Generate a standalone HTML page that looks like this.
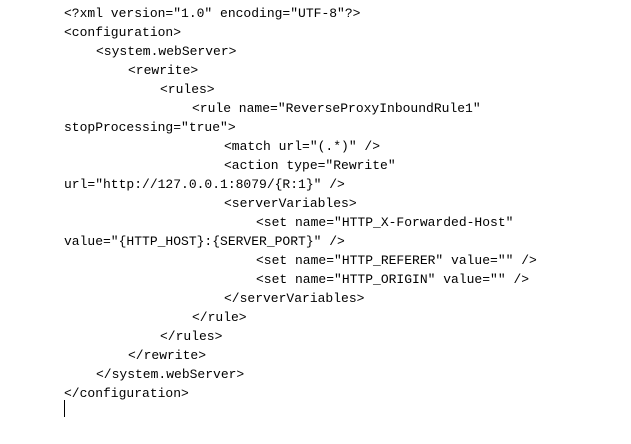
<!DOCTYPE html>
<html><head><meta charset="utf-8"><style>
body{margin:0;background:#fff;width:631px;height:444px;overflow:hidden;position:relative}
.l{position:absolute;font-family:"Liberation Mono","DejaVu Sans Mono",monospace;font-size:13px;line-height:16px;white-space:pre;color:#000}
.c{position:absolute;left:64px;top:400px;width:1px;height:17px;background:#000}
</style></head><body>
<div class="l" style="left:64px;top:6px">&lt;?xml version="1.0" encoding="UTF-8"?&gt;</div>
<div class="l" style="left:64px;top:25px">&lt;configuration&gt;</div>
<div class="l" style="left:96px;top:44px">&lt;system.webServer&gt;</div>
<div class="l" style="left:128px;top:63px">&lt;rewrite&gt;</div>
<div class="l" style="left:160px;top:82px">&lt;rules&gt;</div>
<div class="l" style="left:192px;top:101px">&lt;rule name="ReverseProxyInboundRule1"</div>
<div class="l" style="left:64px;top:120px">stopProcessing="true"&gt;</div>
<div class="l" style="left:224px;top:139px">&lt;match url="(.*)" /&gt;</div>
<div class="l" style="left:224px;top:158px">&lt;action type="Rewrite"</div>
<div class="l" style="left:64px;top:177px">url="http://127.0.0.1:8079/{R:1}" /&gt;</div>
<div class="l" style="left:224px;top:196px">&lt;serverVariables&gt;</div>
<div class="l" style="left:256px;top:215px">&lt;set name="HTTP_X-Forwarded-Host"</div>
<div class="l" style="left:64px;top:234px">value="{HTTP_HOST}:{SERVER_PORT}" /&gt;</div>
<div class="l" style="left:256px;top:253px">&lt;set name="HTTP_REFERER" value="" /&gt;</div>
<div class="l" style="left:256px;top:272px">&lt;set name="HTTP_ORIGIN" value="" /&gt;</div>
<div class="l" style="left:224px;top:291px">&lt;/serverVariables&gt;</div>
<div class="l" style="left:192px;top:310px">&lt;/rule&gt;</div>
<div class="l" style="left:160px;top:329px">&lt;/rules&gt;</div>
<div class="l" style="left:128px;top:348px">&lt;/rewrite&gt;</div>
<div class="l" style="left:96px;top:367px">&lt;/system.webServer&gt;</div>
<div class="l" style="left:64px;top:386px">&lt;/configuration&gt;</div>
<div class="c"></div>
</body></html>
